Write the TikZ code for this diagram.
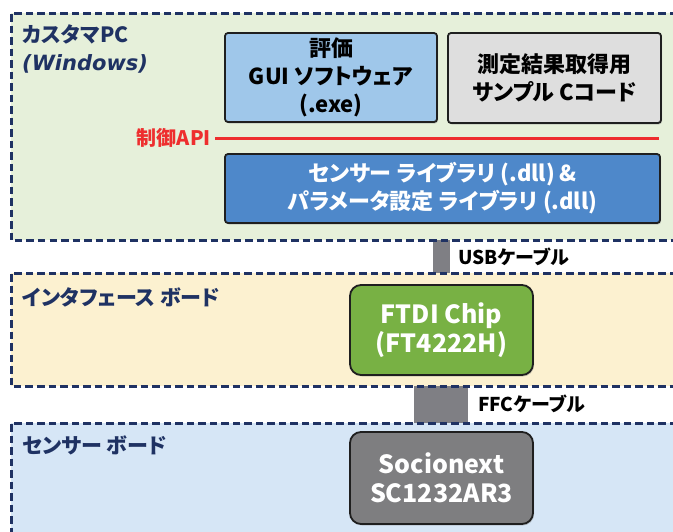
\documentclass[tikz,border=0pt]{standalone}
\usepackage{fontspec}
\setmainfont{Noto Sans CJK JP}[RawFeature=+palt]
\newfontfamily\wfont{DejaVu Sans}
\usetikzlibrary{shadows}
\definecolor{navy}{HTML}{1F3263}
\definecolor{pcfill}{HTML}{E6F0DA}
\definecolor{iffill}{HTML}{FCF1D0}
\definecolor{sbfill}{HTML}{D6E6F6}
\definecolor{guiblue}{HTML}{9FC7EA}
\definecolor{codegray}{HTML}{DEDEDE}
\definecolor{libblue}{HTML}{4E88CA}
\definecolor{chipgreen}{HTML}{78B144}
\definecolor{sensgray}{HTML}{7E7E80}
\definecolor{cablegray}{HTML}{7F7F84}
\definecolor{apired}{HTML}{EE2E2E}
\tikzset{
  panelfill/.style={fill=#1, draw=none},
  panelline/.style={draw=navy, line width=3pt, dash pattern=on 7.5pt off 4pt},
  paneltext/.style={text=navy, font=\fontsize{21}{28}\selectfont\bfseries, anchor=west, align=left, inner sep=0pt},
  box/.style={draw=black!88, line width=1.8pt, rounded corners=3pt, inner sep=0pt, align=center,
    font=\fontsize{22}{28}\selectfont\bfseries,
    drop shadow={shadow xshift=1pt, shadow yshift=-1.5pt, opacity=0.35}},
  chipbox/.style={box, rounded corners=11pt, text=white, font=\fontsize{25}{29}\selectfont\bfseries},
  cable/.style={draw=cablegray, line width=#1},
  cabletext/.style={font=\fontsize{19}{24}\selectfont\bfseries, anchor=west, inner sep=0pt, text=black},
}
\begin{document}
\begin{tikzpicture}[x=1pt,y=-1pt]
\useasboundingbox (0,0) rectangle (673,531);
% panel fills
\path[panelfill=pcfill] (11,13) rectangle (700,240);
\path[panelfill=iffill] (11,273) rectangle (700,386);
\path[panelfill=sbfill] (11,423) rectangle (700,560);
% cables
\coordinate (usbA) at (441.5,240);
\coordinate (usbB) at (441.5,273);
\coordinate (ffcA) at (441,386);
\coordinate (ffcB) at (441,423);
\draw[cable=17pt] (usbA) -- (usbB);
\draw[cable=54pt] (ffcA) -- (ffcB);
% panel borders
\draw[panelline] (700,13) -- (11,13) -- (11,240) -- (700,240);
\draw[panelline] (700,273) -- (11,273) -- (11,386) -- (700,386);
\draw[panelline] (700,423) -- (11,423) -- (11,560);
% panel labels
\node[paneltext] (pclbl) at (22,49) {カスタマPC\\{\wfont\bfseries\itshape\fontsize{21}{28}\selectfont (Windows)}};
\node[paneltext] (iflbl) at (22,297) {インタフェース ボード};
\node[paneltext] (sblbl) at (22,445) {センサー ボード};
% boxes
\node[box, fill=guiblue, minimum width=212pt, minimum height=89pt] (gui) at (331,77.5) {評価\\GUI ソフトウェア\\(.exe)};
\node[box, fill=codegray, minimum width=213pt, minimum height=90pt] (code) at (554.5,78) {測定結果取得用\\サンプル Cコード};
\node[box, fill=libblue, text=white, minimum width=435pt, minimum height=69pt] (lib) at (442.5,188.5) {センサー ライブラリ (.dll) \&\\パラメータ設定 ライブラリ (.dll)};
\node[chipbox, fill=chipgreen, minimum width=183pt, minimum height=90pt] (ftdi) at (441.5,330) {FTDI Chip\\(FT4222H)};
\node[chipbox, fill=sensgray, minimum width=183pt, minimum height=92pt] (soc) at (441.5,478) {Socionext\\SC1232AR3};
% API line
\node[text=apired, font=\fontsize{20}{24}\selectfont\bfseries, anchor=east, inner sep=0pt] (api) at (211,138) {制御API};
\coordinate (apiend) at (659,138);
\draw[apired, line width=3pt] ([xshift=4pt]api.east) -- (apiend);
% cable labels
\node[cabletext] (usblbl) at (458,257) {USBケーブル};
\node[cabletext] (ffclbl) at (478,404) {FFCケーブル};
\end{tikzpicture}
\end{document}
